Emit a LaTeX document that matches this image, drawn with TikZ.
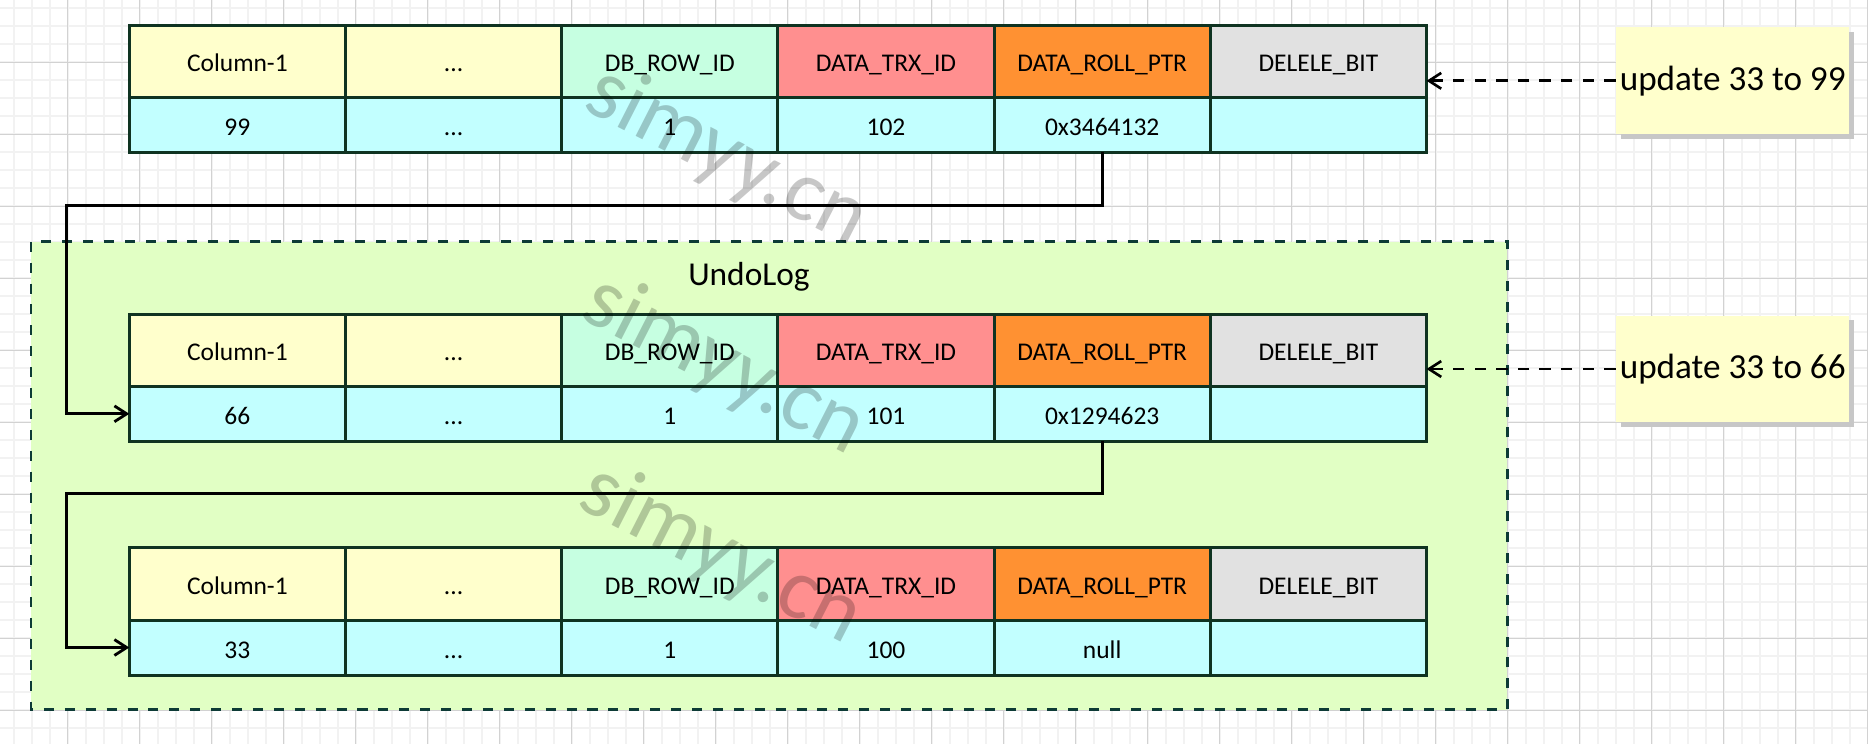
\documentclass[tikz,border=0pt]{standalone}
\usepackage{fontspec}
\setmainfont{Carlito}
\usetikzlibrary{arrows.meta,shadows}

\definecolor{gridminor}{HTML}{F2F2F2}
\definecolor{gridmajor}{HTML}{D2D2D2}
\definecolor{cellline}{HTML}{0F3321}
\definecolor{colyellow}{HTML}{FFFFCC}
\definecolor{colmint}{HTML}{C6FFE1}
\definecolor{colred}{HTML}{FF8F8F}
\definecolor{colorange}{HTML}{FF9132}
\definecolor{colgrey}{HTML}{E1E1E1}
\definecolor{colcyan}{HTML}{C2FFFF}
\definecolor{undofill}{HTML}{E1FFC4}
\definecolor{undoline}{HTML}{0D3B36}

\newcommand\skipcols{...}

\tikzset{
  cell/.style={draw=cellline, line width=1.7pt, inner sep=0pt, outer sep=0pt,
    minimum width=4.324cm, text height=12pt, text depth=0pt,
    font=\fontsize{14.5}{17}\selectfont},
  headcell/.style={cell, minimum height=1.446cm},
  valcell/.style={cell, minimum height=1.1cm, fill=colcyan},
  link/.style={line width=1.6pt, -{Straight Barb[length=7pt,width=9pt]}},
  hint/.style={line width=1.5pt, dash pattern=on 6.5pt off 5.8pt,
    -{Straight Barb[length=7pt,width=9pt]}},
  note/.style={fill=colyellow, inner sep=0pt, minimum width=4.668cm,
    minimum height=2.14cm, font=\fontsize{20}{24}\selectfont,
    drop shadow={shadow xshift=2.8pt, shadow yshift=-2.8pt, fill=black!22, opacity=1}},
  undobox/.style={fill=undofill, draw=undoline, line width=1.7pt,
    dash pattern=on 5.7pt off 6.2pt},
  watermark/.style={text=black, text opacity=0.22, rotate=-27,
    font=\fontsize{50}{50}\selectfont}
}

\begin{document}
\begin{tikzpicture}[x=0.02cm, y=-0.02cm]
\useasboundingbox (0,0) rectangle (1868,744);

% Background grid
\foreach \gx in {13.7,31.7,...,1868} \draw[gridminor, line width=1.1pt] (\gx,0) -- (\gx,744);
\foreach \gy in {8.3,26.3,...,744} \draw[gridminor, line width=1.1pt] (0,\gy) -- (1868,\gy);
\foreach \gx in {67.7,139.7,...,1868} \draw[gridmajor, line width=0.6pt] (\gx,0) -- (\gx,744);
\foreach \gy in {62.3,134.3,...,744} \draw[gridmajor, line width=0.6pt] (0,\gy) -- (1868,\gy);

% UndoLog area
\draw[undobox] (31,241.7) rectangle (1507,709.7);
\node[font=\fontsize{19}{23}\selectfont] (undotitle) at (749,276.7) {UndoLog};

% Row headers
\foreach \t/\ty in {1/25, 2/314, 3/547.7} {
  \foreach \c/\lbl/\clr in {1/Column-1/colyellow, 2/\skipcols/colyellow, 3/DB\_ROW\_ID/colmint,
      4/DATA\_TRX\_ID/colred, 5/DATA\_ROLL\_PTR/colorange, 6/DELELE\_BIT/colgrey} {
    \node[headcell, fill=\clr] (t\t-h\c) at ({129.3+216.2*(\c-0.5)}, {\ty+36.15}) {\lbl};
  }
}

% Row values
\foreach \t/\ty/\va/\vb/\vc in {1/25/99/102/0x3464132, 2/314/66/101/0x1294623, 3/547.7/33/100/null} {
  \foreach \c/\lbl in {1/\va, 2/\skipcols, 3/1, 4/\vb, 5/\vc, 6/{}} {
    \node[valcell] (t\t-v\c) at ({129.3+216.2*(\c-0.5)}, {\ty+99.8}) {\lbl};
  }
}

% Roll pointers
\coordinate (bend1) at (66.7,205.7);
\coordinate (bend2) at (66.7,493.7);
\draw[link] (t1-v5.south) |- (bend1) |- (t2-v1.west);
\draw[link] (t2-v5.south) |- (bend2) |- (t3-v1.west);

% Updates
\node[note] (n99) at (1732.7,80.8) {update 33 to 99};
\node[note] (n66) at (1732.7,369) {update 33 to 66};
\draw[hint] (n99.west) -- (n99.west -| t1-h6.east);
\draw[hint] (n66.west) -- (n66.west -| t2-h6.east);

% Watermarks
\node[watermark] (wm1) at (727,157) {simyy.cn};
\node[watermark] (wm2) at (724,366) {simyy.cn};
\node[watermark] (wm3) at (721,555) {simyy.cn};
\end{tikzpicture}
\end{document}
